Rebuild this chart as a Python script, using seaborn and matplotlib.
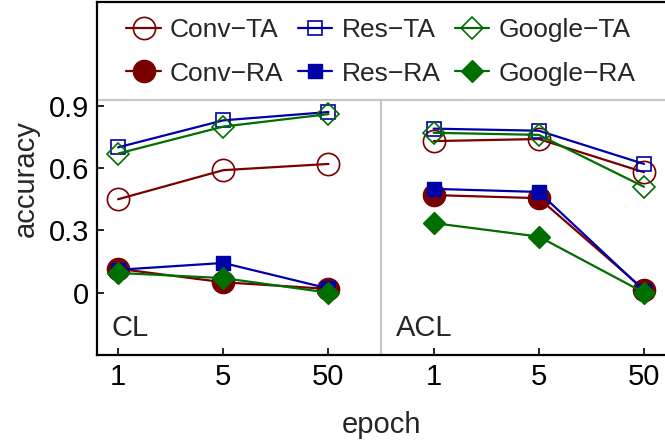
import matplotlib
matplotlib.use("Agg")
import matplotlib.pyplot as plt
import pandas as pd
import seaborn as sns

# data
epochs = ["1", "5", "50"]
panels = ["CL", "ACL"]

conv_ta = [0.45, 0.59, 0.62, 0.73, 0.74, 0.58]
res_ta = [0.70, 0.83, 0.87, 0.79, 0.78, 0.62]
google_ta = [0.67, 0.80, 0.86, 0.77, 0.76, 0.51]
conv_ra = [0.115, 0.05, 0.018, 0.47, 0.455, 0.015]
res_ra = [0.11, 0.143, 0.02, 0.50, 0.485, 0.01]
google_ra = [0.095, 0.07, 0.0, 0.335, 0.27, 0.0]

series = {
    "Conv\u2212TA": conv_ta, "Conv\u2212RA": conv_ra,
    "Res\u2212TA": res_ta, "Res\u2212RA": res_ra,
    "Google\u2212TA": google_ta, "Google\u2212RA": google_ra,
}
colors = {"Conv": "#7a0000", "Res": "#0000a8", "Google": "#006e00"}
markers = {"Conv": ("o", 16), "Res": ("s", 10), "Google": ("D", 11)}

rows = []
for name, vals in series.items():
    for i, v in enumerate(vals):
        rows.append({"series": name, "panel": panels[i // 3], "pos": i, "acc": v})
df = pd.DataFrame(rows)

sns.set_style("ticks")
plt.rcParams["font.family"] = ["Liberation Sans", "DejaVu Sans"]

fig = plt.figure(figsize=(6.65, 4.47), dpi=100)
ax = fig.add_axes([0.146, 0.206, 0.854, 0.7895])

draw_order = ["Conv\u2212TA", "Res\u2212TA", "Google\u2212TA",
              "Conv\u2212RA", "Res\u2212RA", "Google\u2212RA"]
handles = {}
for name in draw_order:
    model, kind = name.split("\u2212")
    c = colors[model]
    m, ms = markers[model]
    face = "none" if kind == "TA" else c
    mew = 1.2 if kind == "TA" else 1.0
    for p in panels:
        sub = df[(df["series"] == name) & (df["panel"] == p)]
        sns.lineplot(data=sub, x="pos", y="acc", ax=ax, color=c, lw=1.6,
                     marker=m, markersize=ms, markerfacecolor=face,
                     markeredgecolor=c, markeredgewidth=mew, legend=False)
    handles[name] = ax.lines[-1]

# separators
ax.axhline(0.93, color="#c8c8c8", lw=1.6, zorder=0)
ax.plot([2.5, 2.5], [-0.3, 0.93], color="#c8c8c8", lw=1.6, zorder=0)

ax.set_xlim(-0.2, 5.2)
ax.set_ylim(-0.3, 1.4)
ax.set_xticks(range(6))
ax.set_xticklabels(epochs * 2)
ax.set_yticks([0, 0.3, 0.6, 0.9])
ax.set_yticklabels(["0", "0.3", "0.6", "0.9"])
ax.tick_params(direction="in", length=5, width=1.2, labelsize=21, pad=6, colors="black")
ax.set_xlabel("epoch", fontsize=21, labelpad=14)
ax.set_ylabel("accuracy", fontsize=21, labelpad=6)

for s in ["left", "bottom", "top"]:
    ax.spines[s].set_linewidth(1.6)
    ax.spines[s].set_color("black")
ax.spines["right"].set_visible(False)

ax.text(-0.06, -0.17, "CL", fontsize=21, va="center", ha="left")
ax.text(2.64, -0.17, "ACL", fontsize=21, va="center", ha="left")

labels = list(series.keys())
ax.legend([handles[l] for l in labels], labels, ncol=3, loc="upper center",
          bbox_to_anchor=(0.5, 1.0), frameon=False, fontsize=19,
          handlelength=1.3, handletextpad=0.35, columnspacing=0.55,
          labelspacing=0.75, borderaxespad=0.2)

fig.savefig("out.png", dpi=100)
